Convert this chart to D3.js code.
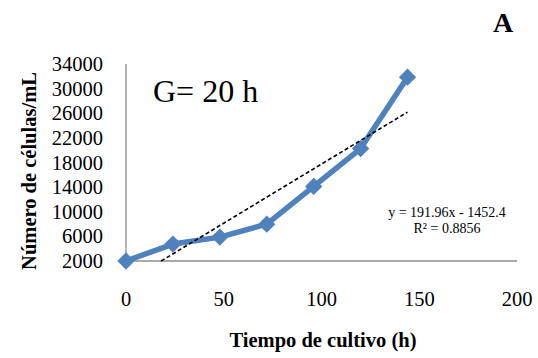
<!DOCTYPE html>
<html>
<head>
<meta charset="utf-8">
<script src="https://cdn.jsdelivr.net/npm/d3@7"></script>
<style>
  body { margin: 0; background: #fff; }
</style>
</head>
<body>
<svg id="chart" width="538" height="358"></svg>
<script>
// data
const hours = [0, 24, 48, 72, 96, 120, 144]
const cells = [2000, 4750, 5880, 7980, 14120, 20260, 31850]
const yTicks = [2000, 6000, 10000, 14000, 18000, 22000, 26000, 30000, 34000]
const xTicks = [0, 50, 100, 150, 200]
const slope = 191.96, intercept = -1452.4

const serif = "'Liberation Serif', 'Times New Roman', Times, 'DejaVu Serif', serif"

const svg = d3.select("#chart")
  .attr("font-family", serif)

const x = d3.scaleLinear().domain([0, 200]).range([126, 517])
const y = d3.scaleLinear().domain([2000, 34000]).range([261, 64])

// axes lines
svg.append("line")
  .attr("x1", x(0)).attr("x2", x(200))
  .attr("y1", y(2000)).attr("y2", y(2000))
  .attr("stroke", "#8c8c8c").attr("stroke-width", 1.3)
svg.append("line")
  .attr("x1", x(0)).attr("x2", x(0))
  .attr("y1", y(2000)).attr("y2", y(34000))
  .attr("stroke", "#8c8c8c").attr("stroke-width", 1.3)

svg.selectAll(".ylab").data(yTicks).enter().append("text")
  .attr("class", "ylab")
  .attr("x", 103).attr("y", d => y(d) + 7)
  .attr("text-anchor", "end")
  .attr("font-size", 20.5)
  .text(d => d)

svg.selectAll(".xlab").data(xTicks).enter().append("text")
  .attr("class", "xlab")
  .attr("x", d => x(d)).attr("y", 306)
  .attr("text-anchor", "middle")
  .attr("font-size", 20.5)
  .text(d => d)

// series
const line = d3.line().x((d, i) => x(hours[i])).y(d => y(d))
svg.append("path")
  .datum(cells)
  .attr("d", line)
  .attr("fill", "none")
  .attr("stroke", "#4f81bd")
  .attr("stroke-width", 5.5)
  .attr("stroke-linejoin", "round")

svg.selectAll(".pt").data(cells).enter().append("path")
  .attr("class", "pt")
  .attr("transform", (d, i) => `translate(${x(hours[i])},${y(d)})`)
  .attr("d", d3.symbol(d3.symbolDiamond2, 190)())
  .attr("fill", "#4f81bd")

// trend line, starts where it meets the x axis
const x0 = (2000 - intercept) / slope
const x1 = hours[hours.length - 1]
svg.append("line")
  .attr("x1", x(x0)).attr("y1", y(slope * x0 + intercept))
  .attr("x2", x(x1)).attr("y2", y(slope * x1 + intercept))
  .attr("stroke", "#000").attr("stroke-width", 1.6)
  .attr("stroke-dasharray", "4,2.5")

svg.append("text")
  .attr("x", 447).attr("y", 217)
  .attr("text-anchor", "middle").attr("font-size", 14)
  .text("y = 191.96x - 1452.4")
svg.append("text")
  .attr("x", 447).attr("y", 233)
  .attr("text-anchor", "middle").attr("font-size", 14)
  .text("R² = 0.8856")

svg.append("text")
  .attr("x", 153).attr("y", 102)
  .attr("font-size", 32)
  .text("G= 20 h")

svg.append("text")
  .attr("x", 493).attr("y", 32)
  .attr("font-size", 28).attr("font-weight", "bold")
  .text("A")

svg.append("text")
  .attr("x", 323).attr("y", 347)
  .attr("text-anchor", "middle")
  .attr("font-size", 20.5).attr("font-weight", "bold")
  .text("Tiempo de cultivo (h)")

svg.append("text")
  .attr("transform", "translate(36,171) rotate(-90)")
  .attr("text-anchor", "middle")
  .attr("font-size", 20.5).attr("font-weight", "bold")
  .text("Número de células/mL")
</script>
</body>
</html>
